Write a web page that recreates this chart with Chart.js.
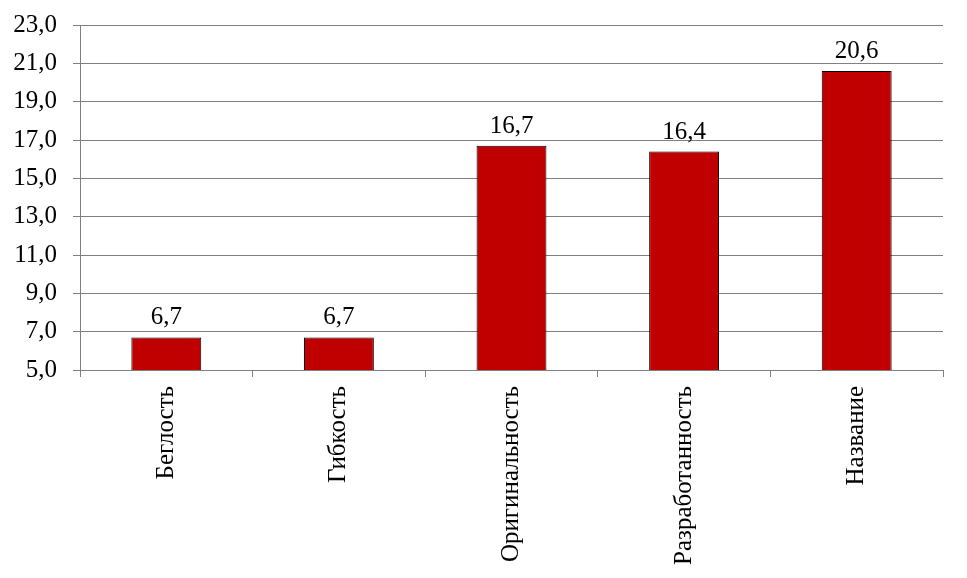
<!DOCTYPE html>
<html>
<head>
<meta charset="utf-8">
<script src="https://cdn.jsdelivr.net/npm/chart.js@4/dist/chart.umd.min.js"></script>
<style>
  html, body { margin: 0; padding: 0; background: #fff; }
  #wrap { width: 967px; height: 578px; }
</style>
</head>
<body>
<div id="wrap"><canvas id="grafico"></canvas></div>
<script>
// --- DATOS ---
const categorias = ["Беглость", "Гибкость", "Оригинальность", "Разработанность", "Название"];
const valores = [6.7, 6.7, 16.7, 16.4, 20.6];
const ejeMin = 5, ejeMax = 23, paso = 2;

const fuente = { family: "'Liberation Serif', 'Times New Roman', serif", size: 25 };
const formatoComa = v => Number(v).toFixed(1).replace('.', ',');

// etiquetas de valor encima de cada barra
const etiquetasValor = {
    id: 'etiquetasValor',
    afterDatasetsDraw(chart) {
        const ctx = chart.ctx;
        ctx.save();
        ctx.font = `${fuente.size}px ${fuente.family}`;
        ctx.fillStyle = '#000';
        ctx.textAlign = 'center';
        ctx.textBaseline = 'bottom';
        chart.getDatasetMeta(0).data.forEach((barra, i) => {
            ctx.fillText(formatoComa(valores[i]), barra.x, barra.y - 7);
        });
        ctx.restore();
    }
};

new Chart(document.getElementById('grafico'), {
    type: 'bar',
    data: {
        labels: categorias,
        datasets: [{
            data: valores,
            backgroundColor: '#C00000',
            borderColor: '#000',
            borderWidth: 1,
            barPercentage: 0.405,
            categoryPercentage: 1
        }]
    },
    options: {
        responsive: true,
        maintainAspectRatio: false,
        animation: false,
        layout: { padding: { top: 25, right: 24, left: 0, bottom: 0 } },
        plugins: { legend: { display: false }, tooltip: { enabled: false } },
        scales: {
            x: {
                grid: { drawOnChartArea: false, drawTicks: true, tickLength: 7, color: '#808080' },
                border: { color: '#808080' },
                ticks: { color: '#000', font: fuente, minRotation: 90, maxRotation: 90, padding: 9 },
                afterFit: s => { s.height = 208; s.paddingLeft = 0; s.paddingRight = 0; }
            },
            y: {
                min: ejeMin,
                max: ejeMax,
                grid: { color: '#808080', tickLength: 7 },
                border: { color: '#808080' },
                ticks: { stepSize: paso, color: '#000', font: fuente, padding: 16, callback: v => formatoComa(v) },
                afterFit: s => { s.width = 80; s.paddingTop = 0; s.paddingBottom = 0; }
            }
        }
    },
    plugins: [etiquetasValor]
});
</script>
</body>
</html>
